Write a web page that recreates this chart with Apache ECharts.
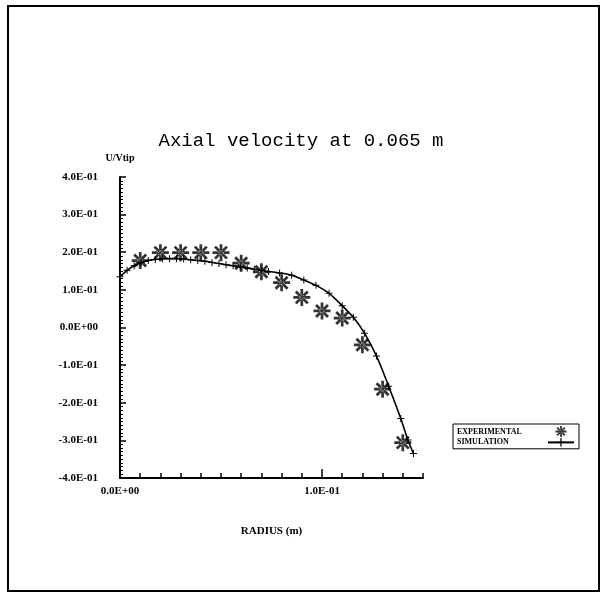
<!DOCTYPE html>
<html>
<head>
<meta charset="utf-8">
<script src="https://cdn.jsdelivr.net/npm/echarts@6/dist/echarts.min.js"></script>
<style>
 html,body{margin:0;padding:0;background:#fff;}
 #chart{width:602px;height:594px;}
</style>
</head>
<body>
<div id="chart"></div>
<script>
// measured values
var expRadius = [0.01, 0.02, 0.03, 0.04, 0.05, 0.06, 0.07, 0.08, 0.09, 0.10, 0.11, 0.12, 0.13, 0.14];
var expVel = [0.178, 0.199, 0.199, 0.199, 0.199, 0.171, 0.148, 0.119, 0.08, 0.044, 0.025, -0.046, -0.164, -0.306];

var simRadius = [0, 0.0035, 0.007, 0.0105, 0.014, 0.0175, 0.021, 0.0245, 0.028, 0.0315, 0.035, 0.0385, 0.042, 0.0455, 0.049, 0.0525, 0.056, 0.0595, 0.063, 0.0665, 0.07, 0.0735, 0.079, 0.085, 0.091, 0.097, 0.1035, 0.11, 0.1155, 0.121, 0.127, 0.133, 0.139, 0.1425, 0.1453];
var simVel = [0.135, 0.152, 0.164, 0.173, 0.178, 0.181, 0.183, 0.183, 0.183, 0.182, 0.180, 0.178, 0.176, 0.173, 0.170, 0.167, 0.164, 0.161, 0.158, 0.155, 0.152, 0.149, 0.145, 0.139, 0.126, 0.112, 0.091, 0.058, 0.027, -0.015, -0.076, -0.156, -0.242, -0.299, -0.335];

var xLabelTicks = [0, 0.1];

var starPath = 'path://M-1.6,-10L1.6,-10L1.6,10L-1.6,10Z M-10,-1.6L10,-1.6L10,1.6L-10,1.6Z M-8.2,-5.9L5.9,8.2L8.2,5.9L-5.9,-8.2Z M5.9,-8.2L8.2,-5.9L-5.9,8.2L-8.2,5.9Z M-3,0A3,3 0 1,0 3,0A3,3 0 1,0 -3,0Z';
var plusPath = 'path://M-0.7,-5L0.7,-5L0.7,5L-0.7,5Z M-5,-0.7L5,-0.7L5,0.7L-5,0.7Z';

var serif = '"Liberation Serif", "DejaVu Serif", serif';

function sci(v){
	v = Math.round(v * 10000) / 10000;
	var s = v.toExponential(1).split('e');
	var e = parseInt(s[1], 10);
	var a = Math.abs(e);
	return s[0] + 'E' + (e < 0 ? '-' : '+') + (a < 10 ? '0' : '') + a;
}

function pairs(xs, ys){
	var out = [];
	for(var i=0;i<xs.length;i++){
		out.push([xs[i], ys[i]]);
	}
	return out;
}

var myChart = echarts.init(document.getElementById('chart'));

myChart.setOption({
	backgroundColor: '#fff',
	animation: false,
	title: {
		text: 'Axial velocity at 0.065 m',
		left: 'center',
		top: 126,
		textStyle: {fontFamily: '"Liberation Mono", monospace', fontSize: 19, fontWeight: 'normal', color: '#000'}
	},
	graphic: [{
		type: 'rect',
		shape: {x: 8, y: 6, width: 591, height: 585},
		style: {fill: 'none', stroke: '#000', lineWidth: 2}
	}],
	legend: {
		orient: 'vertical',
		left: 453,
		top: 424,
		align: 'right',
		itemGap: 1,
		padding: [2, 4, 2, 4],
		borderColor: '#000',
		borderWidth: 1,
		itemWidth: 26,
		itemHeight: 11,
		formatter: '{t|{name}}',
		textStyle: {
			color: '#000',
			rich: {t: {fontFamily: serif, fontSize: 8, fontWeight: 'bold', color: '#000', width: 86, align: 'left'}}
		},
		data: ['EXPERIMENTAL', 'SIMULATION']
	},
	grid: {left: 120, top: 177, right: 179, bottom: 116, containLabel: false},
	xAxis: [{
		type: 'value',
		min: 0,
		max: 0.15,
		interval: 0.01,
		name: 'RADIUS (m)',
		nameLocation: 'middle',
		nameGap: 48,
		nameTextStyle: {fontFamily: serif, fontSize: 11, fontWeight: 'bold', color: '#000'},
		axisLine: {onZero: false, lineStyle: {color: '#000', width: 2}},
		axisTick: {inside: true, length: 5, lineStyle: {color: '#000', width: 1.5}},
		axisLabel: {
			margin: 8,
			fontFamily: serif, fontSize: 11, fontWeight: 'bold', color: '#000',
			formatter: function(v){
				for(var i=0;i<xLabelTicks.length;i++){
					if(Math.abs(v - xLabelTicks[i]) < 1e-9) return sci(v);
				}
				return '';
			}
		},
		splitLine: {show: false}
	}, {
		type: 'value',
		min: 0,
		max: 0.15,
		position: 'bottom',
		axisLine: {show: false, onZero: false},
		axisTick: {inside: true, length: 9, customValues: xLabelTicks, lineStyle: {color: '#000', width: 1.5}},
		axisLabel: {show: false},
		splitLine: {show: false}
	}],
	yAxis: {
		type: 'value',
		min: -0.4,
		max: 0.4,
		interval: 0.1,
		name: 'U/Vtip',
		nameLocation: 'end',
		nameGap: 14,
		nameTextStyle: {fontFamily: serif, fontSize: 10, fontWeight: 'bold', color: '#000'},
		axisLine: {lineStyle: {color: '#000', width: 2}},
		axisTick: {inside: true, length: 6, lineStyle: {color: '#000', width: 1.5}},
		minorTick: {show: true, splitNumber: 10, length: 3, lineStyle: {color: '#000', width: 1}},
		axisLabel: {
			margin: 22,
			fontFamily: serif, fontSize: 11, fontWeight: 'bold', color: '#000',
			formatter: function(v){ return sci(v); }
		},
		splitLine: {show: false}
	},
	series: [{
		name: 'EXPERIMENTAL',
		type: 'scatter',
		symbol: starPath,
		symbolSize: 17,
		itemStyle: {color: '#000'},
		data: pairs(expRadius, expVel)
	}, {
		name: 'SIMULATION',
		type: 'line',
		smooth: 0.3,
		symbol: plusPath,
		symbolSize: 7,
		showAllSymbol: true,
		lineStyle: {color: '#000', width: 1.6},
		itemStyle: {color: '#000'},
		data: pairs(simRadius, simVel)
	}]
});
</script>
</body>
</html>
